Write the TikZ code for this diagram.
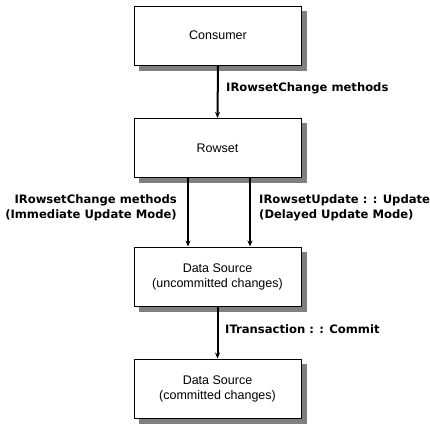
\documentclass[tikz,border=0pt]{standalone}
\usepackage{fontspec}
\setmainfont{Liberation Sans}
\newfontfamily\lblfont{DejaVu Sans}
\usetikzlibrary{arrows.meta}
\begin{document}
\begin{tikzpicture}[x=1pt,y=-1pt,
  box/.style={draw=black,line width=1pt,fill=white,minimum width=167pt,minimum height=59pt,
    align=center,font=\fontsize{12.5}{15}\selectfont,inner sep=0pt},
  shadowbox/.style={fill=black,fill opacity=0.5,draw=none,minimum width=168pt,minimum height=60pt,inner sep=0pt},
  conn/.style={line width=2pt,-{Stealth[length=6pt,width=5pt]}},
  lbl/.style={font=\lblfont\bfseries\fontsize{11.6}{15}\selectfont,inner sep=0pt}]
\useasboundingbox (0,0) rectangle (430,429);
\node[shadowbox] (scons) at (223,40.5) {};
\node[shadowbox] (srow) at (222.5,153) {};
\node[shadowbox] (sds1) at (222.5,281.5) {};
\node[shadowbox] (sds2) at (222.5,393.5) {};
\node[box] (cons) at (218,35.5) {Consumer};
\node[box] (row) at (217.5,148) {Rowset};
\node[box] (ds1) at (217.5,276.5) {Data Source\\(uncommitted changes)};
\node[box] (ds2) at (217.5,388.5) {Data Source\\(committed changes)};
\draw[conn] (cons.south) -- (row.north);
\draw[conn] ([xshift=-29.5pt]row.south) -- ([xshift=-29.5pt]ds1.north);
\draw[conn] ([xshift=32.5pt]row.south) -- ([xshift=32.5pt]ds1.north);
\draw[conn] (ds1.south) -- (ds2.north);
\node[lbl,anchor=west] (l1) at (226,88) {IRowsetChange methods};
\node[lbl,anchor=east,align=right] (l2) at (177,207.5) {IRowsetChange methods\\(Immediate Update Mode)};
\node[lbl,anchor=west,align=left] (l3) at (259,207.5) {IRowsetUpdate : : Update\\(Delayed Update Mode)};
\node[lbl,anchor=west] (l4) at (225,329) {ITransaction : : Commit};
\end{tikzpicture}
\end{document}
